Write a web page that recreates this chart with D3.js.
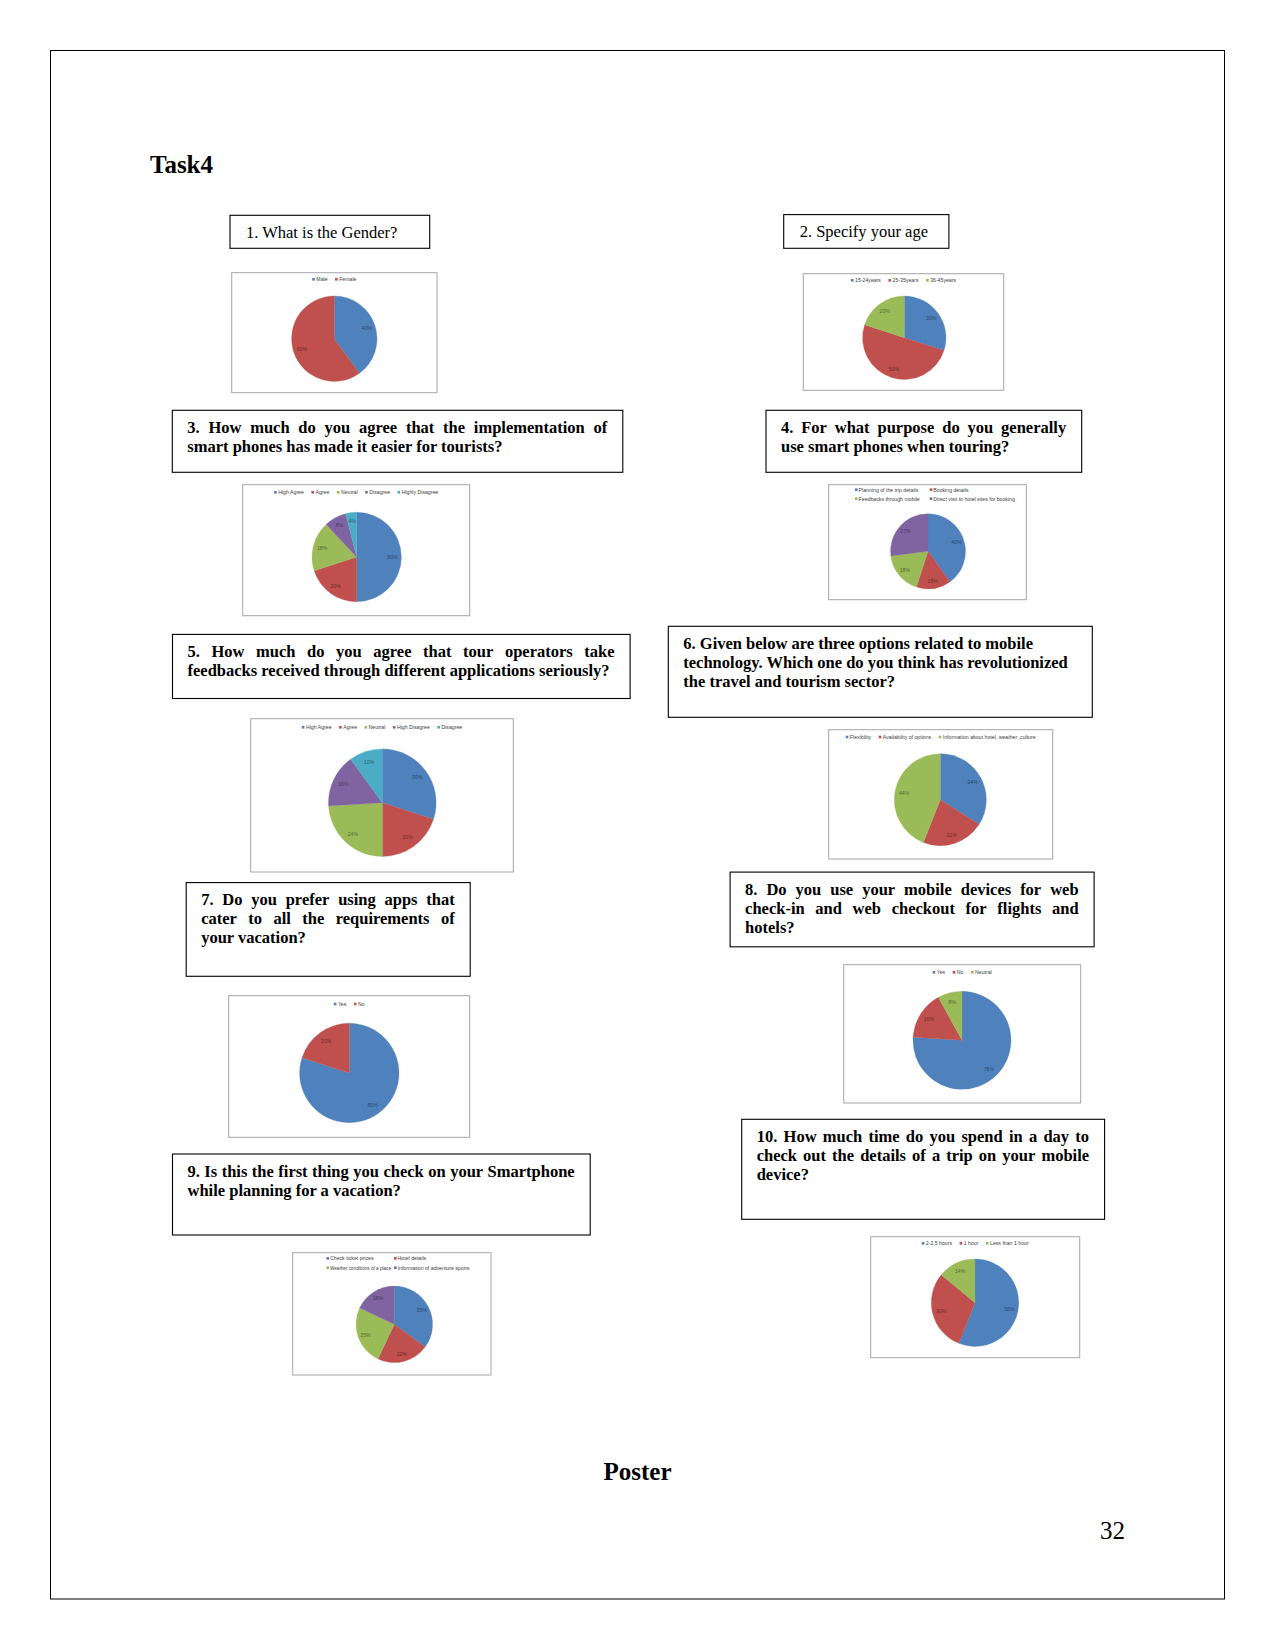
<!DOCTYPE html>
<html><head><meta charset="utf-8">
<script src="https://cdn.jsdelivr.net/npm/d3@7"></script>
<style>body{margin:0;background:#fff}svg{display:block}</style>
</head><body>
<script>
// ---------- DATA ----------
const q1Categories = ["Male", "Female"];
const q1Values = [40, 60];
const q2Categories = ["15-24years", "25-35years", "36-45years"];
const q2Values = [30, 50, 20];
const q3Categories = ["High Agree", "Agree", "Neutral", "Disagree", "Highly Disagree"];
const q3Values = [50, 20, 18, 8, 4];
const q4Categories = ["Planning of the trip details", "Booking details", "Feedbacks through mobile", "Direct visit to hotel sites for booking"];
const q4Values = [40, 15, 18, 27];
const q5Categories = ["High Agree", "Agree", "Neutral", "High Disagree", "Disagree"];
const q5Values = [30, 20, 24, 16, 10];
const q6Categories = ["Flexibility", "Availability of options", "Information about hotel, weather ,culture"];
const q6Values = [34, 22, 44];
const q7Categories = ["Yes", "No"];
const q7Values = [80, 20];
const q8Categories = ["Yes", "No", "Neutral"];
const q8Values = [76, 16, 8];
const q9Categories = ["Check ticket prices", "Hotel details", "Weather conditions of a place", "Information of adventure sports"];
const q9Values = [35, 22, 25, 18];
const q10Categories = ["2-2.5 hours", "1 hour", "Less than 1 hour"];
const q10Values = [56, 30, 14];

const q1Text = ["1. What is the Gender?"];
const q2Text = ["2. Specify your age"];
const q3Text = ["3.  How  much  do  you  agree  that  the  implementation  of", "smart phones has made it easier for tourists?"];
const q4Text = ["4.  For  what  purpose  do  you  generally", "use smart phones when touring?"];
const q5Text = ["5.  How  much  do  you  agree  that  tour  operators  take", "feedbacks received through different applications seriously?"];
const q6Text = ["6. Given below are three options related to mobile", "technology. Which one do you think has revolutionized", "the travel and tourism sector?"];
const q7Text = ["7.  Do  you  prefer  using  apps  that", "cater  to  all  the  requirements  of", "your vacation?"];
const q8Text = ["8.  Do  you  use  your  mobile  devices  for  web", "check-in  and  web  checkout  for  flights  and", "hotels?"];
const q9Text = ["9. Is this the first thing you check on your Smartphone", "while planning for a vacation?"];
const q10Text = ["10.  How  much  time  do  you  spend  in  a  day  to", "check  out  the  details  of  a  trip  on  your  mobile", "device?"];

const palette = ["#4F81BD", "#C0504D", "#9BBB59", "#8064A2", "#4BACC6"];

// ---------- LAYOUT ----------
const W = 1275, H = 1650;
const svg = d3.select("body").append("svg").attr("width", W).attr("height", H);
const serif = "'Liberation Serif','Times New Roman',serif";
const sans = "'Liberation Sans Narrow','Liberation Sans',Arial,sans-serif";

svg.append("rect").attr("x", 50.5).attr("y", 50.5).attr("width", 1174).attr("height", 1548.5)
  .attr("fill", "none").attr("stroke", "#000").attr("stroke-width", 1);

svg.append("text").attr("x", 150).attr("y", 173).attr("font-family", serif)
  .attr("font-size", 25).attr("font-weight", "bold").text("Task4");
svg.append("text").attr("x", 637.5).attr("y", 1480).attr("text-anchor", "middle").attr("font-family", serif)
  .attr("font-size", 25).attr("font-weight", "bold").text("Poster");
svg.append("text").attr("x", 1100).attr("y", 1539).attr("font-family", serif)
  .attr("font-size", 25).text("32");

const boxes = [
  {lines: q1Text, x: 230, y: 215.3, w: 199.7, h: 33, bold: false, just: [], padL: 16},
  {lines: q2Text, x: 783.7, y: 214.6, w: 165.2, h: 33.7, bold: false, just: [], padL: 16},
  {lines: q3Text, x: 172.3, y: 410.3, w: 450.5, h: 62, bold: true, just: [0]},
  {lines: q4Text, x: 766, y: 410.3, w: 315.7, h: 62, bold: true, just: [0]},
  {lines: q5Text, x: 172.5, y: 634.4, w: 457.6, h: 64.1, bold: true, just: [0]},
  {lines: q6Text, x: 668.3, y: 626.3, w: 424, h: 91, bold: true, just: []},
  {lines: q7Text, x: 186.2, y: 882.6, w: 284, h: 93.7, bold: true, just: [0, 1]},
  {lines: q8Text, x: 730.1, y: 872.1, w: 364, h: 74.7, bold: true, just: [0, 1]},
  {lines: q9Text, x: 172.5, y: 1154, w: 417.7, h: 81, bold: true, just: [0]},
  {lines: q10Text, x: 741.7, y: 1119.3, w: 362.9, h: 100, bold: true, just: [0, 1]}
];

function drawLine(g, text, x, y, width, justify, bold) {
  const style = t => t.attr("font-family", serif).attr("font-size", 16.5)
    .attr("font-weight", bold ? "bold" : "normal").attr("fill", "#000");
  const words = text.trim().split(/\s+/);
  if (!justify || words.length < 2) {
    style(g.append("text").attr("x", x).attr("y", y).text(words.join(" ")));
    return;
  }
  const widths = words.map(w => {
    const t = style(g.append("text").text(w));
    const wd = t.node().getComputedTextLength();
    t.remove();
    return wd;
  });
  const gap = (width - d3.sum(widths)) / (words.length - 1);
  let cx = x;
  words.forEach((w, i) => {
    style(g.append("text").attr("x", cx).attr("y", y).text(w));
    cx += widths[i] + gap;
  });
}

boxes.forEach(b => {
  const g = svg.append("g");
  g.append("rect").attr("x", b.x).attr("y", b.y).attr("width", b.w).attr("height", b.h)
    .attr("fill", "#fff").attr("stroke", "#000").attr("stroke-width", 1.1);
  const padL = b.padL || 15, padR = 15.5;
  b.lines.forEach((ln, i) => {
    drawLine(g, ln, b.x + padL, b.y + 22.7 + i * 19, b.w - padL - padR, b.just.includes(i), b.bold);
  });
});

const charts = [
  {cats: q1Categories, vals: q1Values, f: [231.7, 272.7, 437, 392.7], c: [334.3, 338.7], r: 42.7, ly: [279.3]},
  {cats: q2Categories, vals: q2Values, f: [803.3, 273.7, 1003.7, 390.3], c: [904.3, 337.7], r: 41.7, ly: [280.3]},
  {cats: q3Categories, vals: q3Values, f: [242.7, 484.7, 469.7, 615.7], c: [356.7, 557], r: 44.7, ly: [492.3]},
  {cats: q4Categories, vals: q4Values, f: [828.7, 484.7, 1026.3, 599.7], c: [928, 551.3], r: 37.5, ly: [489.7, 498.7], cols: [856.3, 931]},
  {cats: q5Categories, vals: q5Values, f: [250.7, 718.7, 513.3, 872], c: [382.3, 802.7], r: 53.8, ly: [727.3]},
  {cats: q6Categories, vals: q6Values, f: [828.7, 729.7, 1052.7, 859], c: [940.3, 799.7], r: 46, ly: [737]},
  {cats: q7Categories, vals: q7Values, f: [228.7, 995.7, 469.7, 1137.3], c: [349.3, 1073], r: 49.7, ly: [1004]},
  {cats: q8Categories, vals: q8Values, f: [843.7, 964.7, 1080.7, 1103], c: [962, 1040.3], r: 49, ly: [972.3]},
  {cats: q9Categories, vals: q9Values, f: [292.7, 1252.7, 491, 1375], c: [394.3, 1324.3], r: 38.3, ly: [1258.3, 1267.7], cols: [327.7, 395.3]},
  {cats: q10Categories, vals: q10Values, f: [870.7, 1236.7, 1079.7, 1357.7], c: [975, 1302.7], r: 43.7, ly: [1243.3]}
];

const legendFont = 5.2, labelFont = 5.2, mk = 2.6;

charts.forEach(ch => {
  const g = svg.append("g");
  const [x0, y0, x1, y1] = ch.f;
  g.append("rect").attr("x", x0).attr("y", y0).attr("width", x1 - x0).attr("height", y1 - y0)
    .attr("fill", "#fff").attr("stroke", "#a6a6a6").attr("stroke-width", 1);

  const color = d3.scaleOrdinal().domain(ch.cats).range(palette);
  const data = ch.cats.map((c, i) => ({cat: c, val: ch.vals[i]}));
  const pie = d3.pie().sort(null).value(d => d.val);
  const arc = d3.arc().innerRadius(0).outerRadius(ch.r);
  const labelArc = d3.arc().innerRadius(ch.r * 0.8).outerRadius(ch.r * 0.8);
  const pg = g.append("g").attr("transform", `translate(${ch.c[0]},${ch.c[1]})`);
  const arcs = pie(data);
  pg.selectAll("path").data(arcs).join("path")
    .attr("d", arc).attr("fill", d => color(d.data.cat))
    .attr("stroke", d => color(d.data.cat)).attr("stroke-width", 0.3);
  pg.selectAll("text").data(arcs).join("text")
    .attr("transform", d => `translate(${labelArc.centroid(d)})`)
    .attr("text-anchor", "middle").attr("dy", "0.35em")
    .attr("font-family", sans).attr("font-size", labelFont)
    .attr("fill", d => d3.color(color(d.data.cat)).darker(1.6))
    .text(d => d.data.val + "%");

  // legend
  const lg = g.append("g").attr("font-family", sans).attr("font-size", legendFont).attr("fill", "#404040");
  if (ch.cols) {
    const maxW = ch.cols[1] - ch.cols[0] - mk - 4;
    ch.cats.forEach((c, i) => {
      const col = i % 2, row = Math.floor(i / 2);
      const lx = ch.cols[col], ly = ch.ly[row];
      lg.append("rect").attr("x", lx - mk / 2).attr("y", ly - mk / 2).attr("width", mk).attr("height", mk).attr("fill", color(c));
      const t = lg.append("text").attr("x", lx + mk / 2 + 1).attr("y", ly + 1.8).text(c);
      if (col === 0 && t.node().getComputedTextLength() > maxW) {
        t.attr("textLength", maxW).attr("lengthAdjust", "spacingAndGlyphs");
      }
    });
  } else {
    const items = ch.cats.map(c => {
      const t = lg.append("text").text(c);
      const w = t.node().getComputedTextLength();
      return {c, t, w};
    });
    const gapItem = 7.5, gapMk = 1.5;
    const total = d3.sum(items, d => mk + gapMk + d.w) + gapItem * (items.length - 1);
    let cx = (x0 + x1) / 2 - total / 2;
    const ly = ch.ly[0];
    items.forEach(it => {
      lg.append("rect").attr("x", cx).attr("y", ly - mk / 2).attr("width", mk).attr("height", mk).attr("fill", color(it.c));
      it.t.attr("x", cx + mk + gapMk).attr("y", ly + 1.8);
      cx += mk + gapMk + it.w + gapItem;
    });
  }
});
</script>
</body></html>
